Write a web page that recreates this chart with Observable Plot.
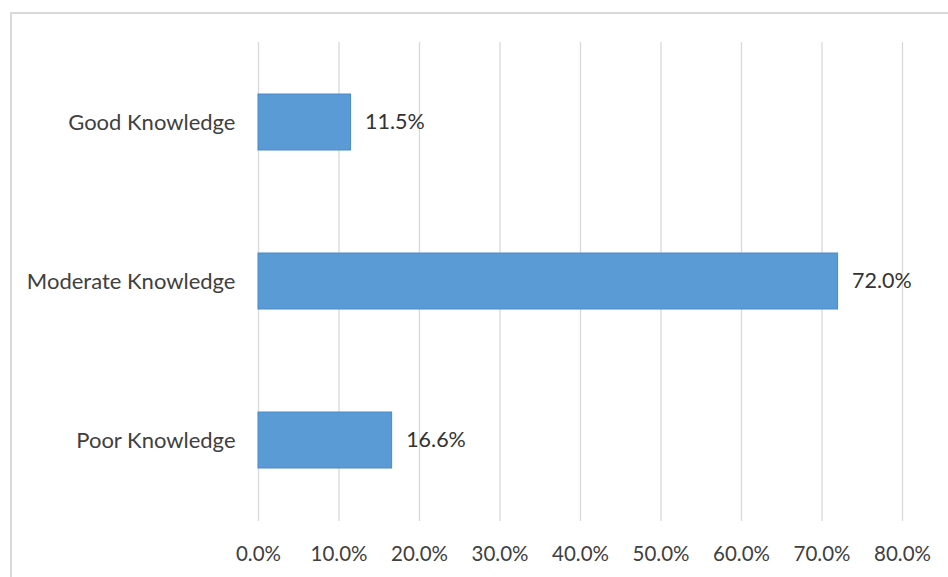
<!DOCTYPE html>
<html>
<head>
<meta charset="utf-8">
<script src="https://cdn.jsdelivr.net/npm/d3@7"></script>
<script src="https://cdn.jsdelivr.net/npm/@observablehq/plot@0.6"></script>
<style>
  html, body { margin: 0; padding: 0; background: #fff; }
  #wrap { position: relative; width: 948px; height: 577px; overflow: hidden; }
  #frame { position: absolute; left: 10px; top: 12px; width: 960px; height: 600px; border: 2px solid #d9d9d9; box-sizing: border-box; }
  #chart { position: absolute; left: 0; top: 0; }
</style>
</head>
<body>
<div id="wrap"><div id="frame"></div><div id="chart"></div></div>
<script>
const categories = ["Good Knowledge", "Moderate Knowledge", "Poor Knowledge"];
const values = [11.5, 72.0, 16.6];
const tickValues = [0, 10, 20, 30, 40, 50, 60, 70, 80];

const data = categories.map((c, i) => ({category: c, value: values[i]}));
const fmt = v => v.toFixed(1) + "%";

const chart = Plot.plot({
  width: 948,
  height: 577,
  marginLeft: 258,
  marginRight: 46,
  marginTop: 42,
  marginBottom: 56,
  style: {fontFamily: "Lato, 'Open Sans', sans-serif", fontSize: "20px", color: "#404040", background: "transparent"},
  x: {domain: [0, 80], ticks: tickValues, tickFormat: fmt, label: null},
  y: {domain: categories, paddingInner: 0.645, paddingOuter: 0.3225, label: null},
  marks: [
    Plot.gridX(tickValues, {stroke: "#d9d9d9", strokeOpacity: 1, strokeWidth: 1.3}),
    Plot.barX(data, {x: "value", y: "category", fill: "#5b9bd5", stroke: "#4a8ac8", strokeWidth: 1}),
    Plot.text(data, {x: "value", y: "category", text: d => fmt(d.value), textAnchor: "start", dx: 14, fill: "#333333", fontSize: 21.5}),
    Plot.axisX(tickValues, {tickSize: 0, tickPadding: 25, tickFormat: fmt, fill: "#404040", fontSize: 20.5, label: null}),
    Plot.axisY({tickSize: 0, tickPadding: 23, fill: "#404040", fontSize: 22, label: null})
  ]
});
document.getElementById("chart").appendChild(chart);
</script>
</body>
</html>
